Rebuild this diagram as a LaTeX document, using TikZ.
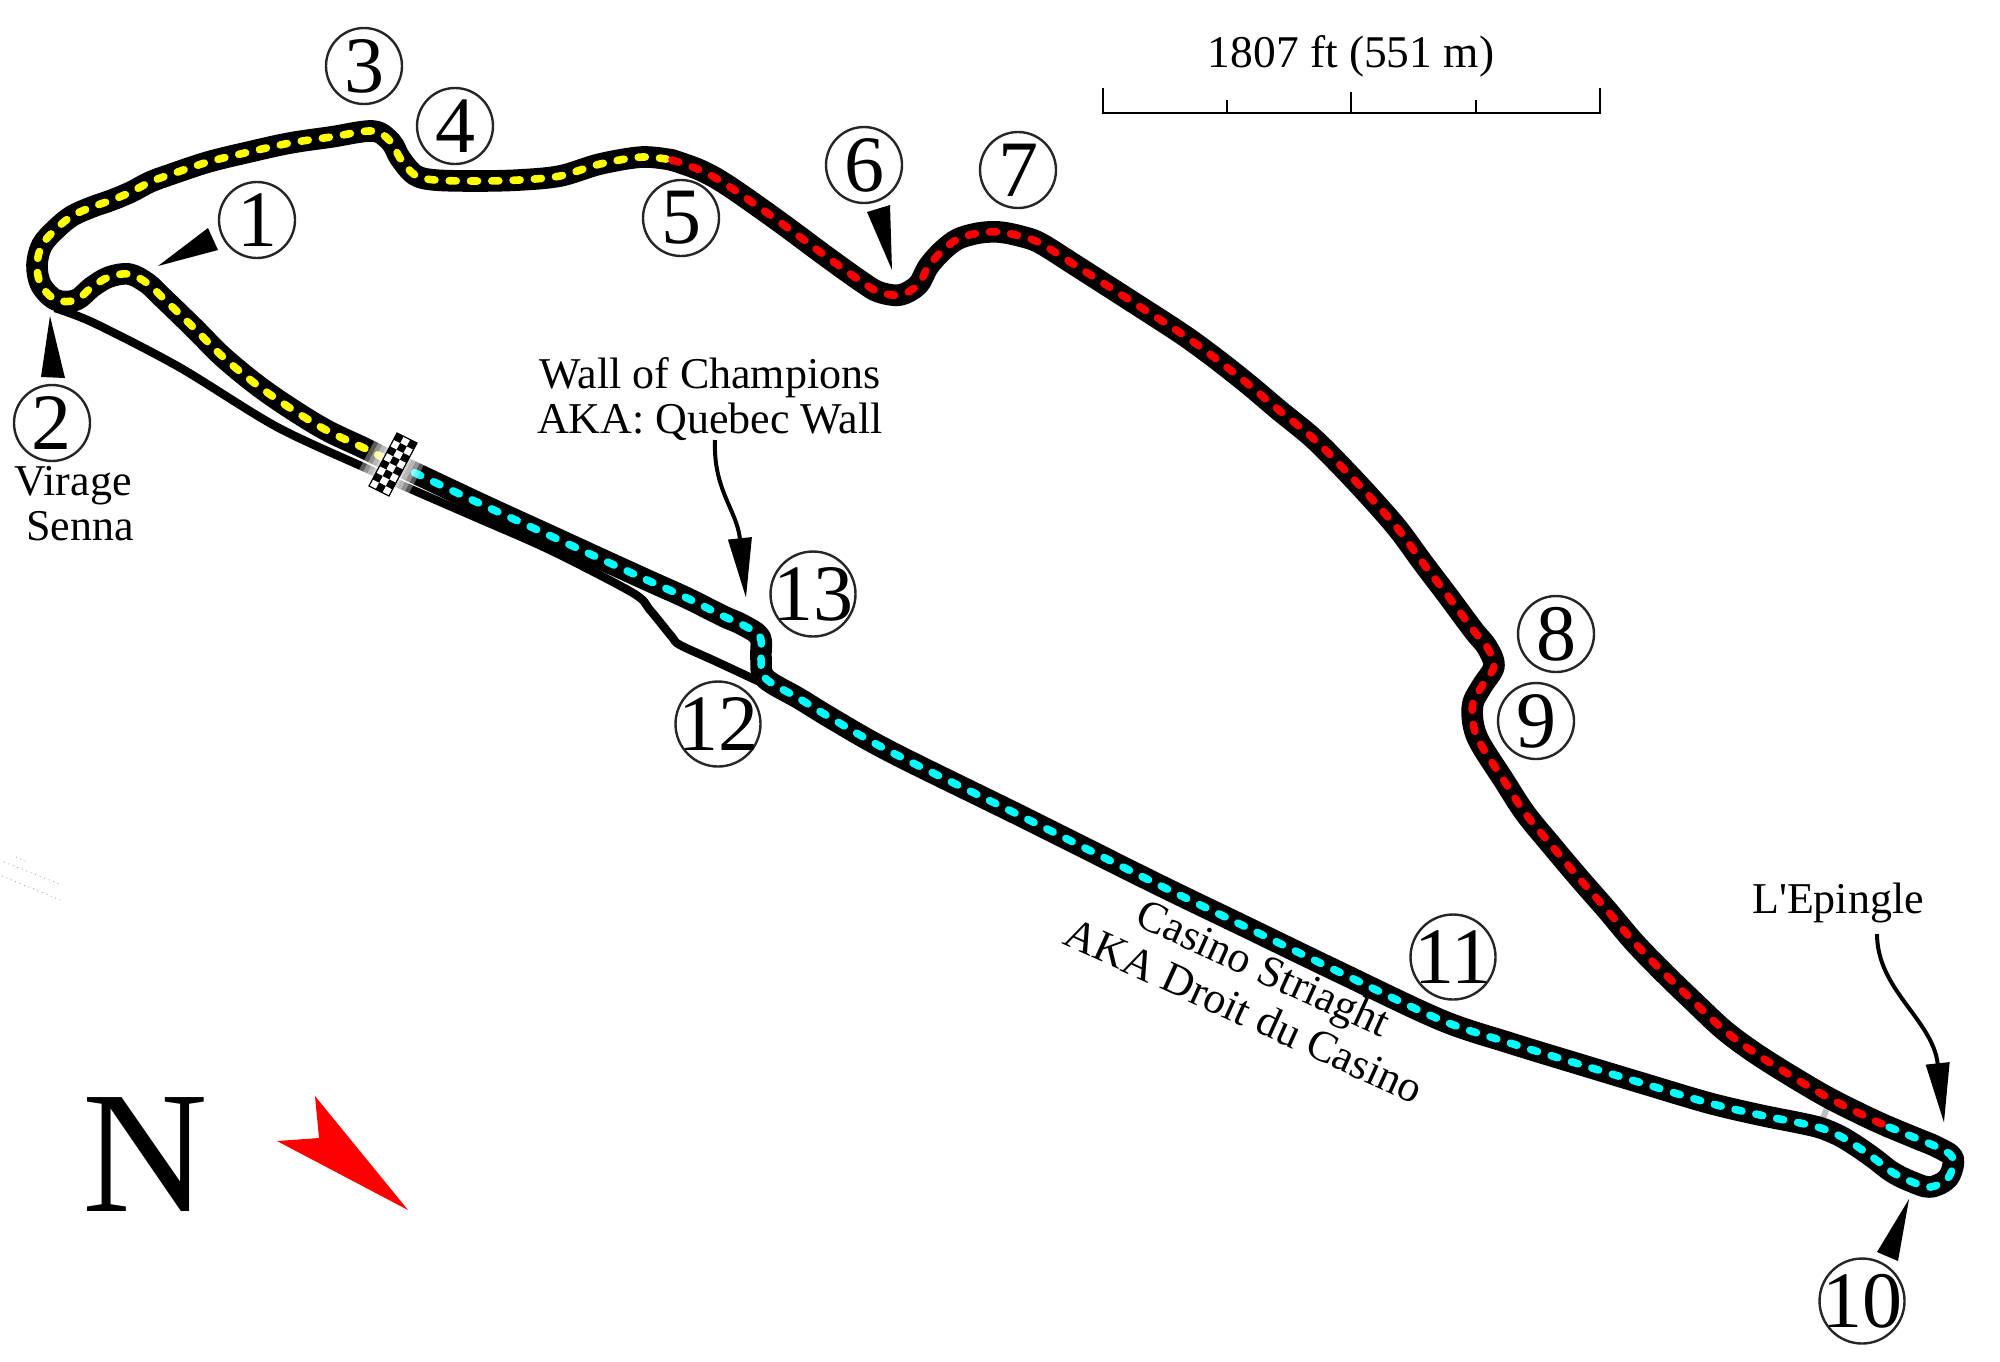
\documentclass[tikz,border=0pt]{standalone}
\usepackage{fontspec}
\setmainfont{Liberation Serif}
\usetikzlibrary{arrows.meta}

\definecolor{sectoryellow}{HTML}{FFFF00}
\definecolor{sectorred}{HTML}{FF0000}
\definecolor{sectorcyan}{HTML}{00FFFF}

\tikzset{
	trackedge/.style={line width=10.8pt, line cap=round, line join=round, black},
	trackdash/.style={line width=3.8pt, line cap=round, dash pattern=on 3.5pt off 7.15pt},
	pitlane/.style={line width=4.2pt, line join=round, black},
	turnmark/.style={circle, draw=black!85, line width=1.2pt, inner sep=0pt, minimum size=38pt,
		font=\fontsize{40}{40}\selectfont},
	turnmarkwide/.style={turnmark, minimum size=42.5pt},
	placename/.style={inner sep=0pt, align=center, font=\fontsize{22}{22}\selectfont},
	callout/.style={line width=2pt, -{Triangle[length=30pt,width=11.5pt]}},
}

\newcommand{\sectorone}{plot[smooth, tension=.55] coordinates {
	(384,458) (364,448) (326,430) (290,408) (257,385) (223,357) (194,328) (163,298)
	(147,283) (129,274) (109,277) (92,287) (76,300) (56,300) (41,285) (37,265)
	(42,245) (56,229) (72,216) (92,207) (112,200) (131,192) (150,182) (169,175)
	(208,162) (249,152) (290,143) (331,137) (373,131) (391,142) (400,158) (415,175)
	(435,180) (477,181) (519,180) (560,176) (600,164) (642,157) (672,160)}}
\newcommand{\sectortwo}{plot[smooth, tension=.55] coordinates {
	(672,160) (700,170) (727,185) (777,220) (827,257) (862,282) (879,292) (900,295) (918,285) (928,267)
	(942,251) (958,239) (979,233) (999,232) (1020,236) (1040,243) (1075,265)
	(1128,299) (1182,334) (1215,358) (1248,384) (1280,411) (1313,438) (1343,468) (1371,498)
	(1398,529) (1423,563) (1448,596) (1474,631) (1487,647) (1494,666)
	(1482,686) (1473,703) (1473,723) (1480,743) (1503,779) (1525,813) (1552,846) (1579,878)
	(1607,910) (1634,942) (1663,972) (1693,1001) (1724,1030) (1755,1053) (1793,1077)
	(1829,1098) (1867,1117) (1889,1127)}}
\newcommand{\sectorthree}{plot[smooth, tension=.55] coordinates {
	(1889,1127) (1918,1139) (1937,1147) (1953,1158) (1948,1178) (1930,1187) (1910,1181)
	(1892,1172) (1875,1159) (1858,1147) (1840,1136) (1821,1128) (1800,1123) (1760,1115)
	(1709,1103) (1645,1084) (1582,1065) (1510,1043) (1441,1020) (1339,972) (1246,927) (1153,882)
	(1023,817) (893,753) (836,721) (800,699) (765,678) (761,658)
	(760,637) (743,625) (723,616) (687,598) (647,580) (590,554) (553,537) (483,505) (413,472) (384,458)}}

\begin{document}
\begin{tikzpicture}[x=.5pt, y=-.5pt]
\useasboundingbox (0,0) rectangle (2000,1361);

% stray marks on the left
\foreach \xa/\ya/\xb/\yb in {4/862/62/885, 2/876/63/901, 16/857/27/862}
	\draw[blue!45, line width=.4pt, dotted] (\xa,\ya) -- (\xb,\yb);

% pit lane and the old access mark
\draw[gray!50, line width=3pt] (1827,1108) -- (1823,1118);
\draw[pitlane] plot[smooth, tension=.5] coordinates {(55,308) (94,323) (179,367) (277,427)
	(370,470) (397,483) (475,517) (550,550) (633,593) (650,610) (672,637) (680,645) (715,661) (760,682)};

% the track
\draw[trackedge] \sectorone;
\draw[trackedge] \sectortwo;
\draw[trackedge] \sectorthree;
\draw[trackdash, sectoryellow] \sectorone;
\draw[trackdash, sectorred] \sectortwo;
\draw[trackdash, sectorcyan] \sectorthree;

% start line
\begin{scope}[shift={(397,433)}, x={(3.33pt,-1.67pt)}, y={(-1.75pt,-3.31pt)}]
	\foreach \w in {.4, 1.0, 1.6, 2.2}
		\fill[white, opacity=.35] (-\w,0) -- (3+\w,0) -- (3+\w,8) -- (-\w,8) -- cycle;
	\fill[white] (0,0) -- (3,0) -- (3,8) -- (0,8) -- cycle;
	\foreach \i in {0,1,2}
		\foreach \j in {0,...,7}
		{
			\pgfmathtruncatemacro{\cell}{mod(\i+\j,2)}
			\ifnum\cell=0 \fill[black] (\i,\j) -- (\i+1,\j) -- (\i+1,\j+1) -- (\i,\j+1) -- cycle; \fi
		}
	\draw[black, line width=.6pt] (0,0) -- (3,0) -- (3,8) -- (0,8) -- cycle;
\end{scope}

% turn numbers
\foreach \n/\px/\py in {1/257/220, 2/52/423, 3/364/66, 4/455/126, 5/681/218, 6/864/165,
	7/1018/170, 8/1556/634, 9/1536/721}
	\node (turn\n) [turnmark] at (\px,\py) {\makebox[0pt]{\n}};
\foreach \n/\px/\py in {10/1862/1301, 11/1453/957, 12/718/724, 13/813/594}
	\node (turn\n) [turnmarkwide] at (\px,\py) {\makebox[0pt]{\n}};

% pointers
\fill (158,266) -- (208,228) -- (218,250) -- cycle;
\fill (50,316) -- (41,377) -- (65,378) -- cycle;
\fill (892,270) -- (867,212) -- (890,205) -- cycle;
\fill (1909,1199) -- (1877,1252) -- (1898,1261) -- cycle;

% names
\node (virage) [placename, anchor=base] at (73,495) {Virage};
\node (senna) [placename, anchor=base] at (80,540) {Senna};
\node (wall) [placename, anchor=base] at (710,388) {Wall of Champions};
\node (quebec) [placename, anchor=base] at (710,433) {AKA: Quebec Wall};
\node (epingle) [placename, anchor=base] at (1838,913) {L\textquotesingle Epingle};
\node (casino) [placename, rotate=-24.5, font=\fontsize{22}{23.5}\selectfont] at (1254,989)
	{Casino Striaght\\AKA Droit du Casino};

\coordinate (wallfoot) at (715,440);
\coordinate (walltip) at (746,598);
\draw[callout] (wallfoot) .. controls (713,490) and (737,510) .. (walltip);
\coordinate (epinglefoot) at (1877,934);
\coordinate (epingletip) at (1944,1123);
\draw[callout] (epinglefoot) .. controls (1877,990) and (1933,1020) .. (epingletip);

% scale
\node (scalename) [placename, anchor=base, font=\fontsize{22.7}{22.7}\selectfont] at (1351,67) {1807 ft (551 m)};
\draw[line width=.8pt] (1103,88) -- (1103,113) -- (1600,113) -- (1600,88);
\draw[line width=.8pt] (1227,100) -- (1227,113) (1351,92) -- (1351,113) (1476,100) -- (1476,113);

% north
\node (north) [inner sep=0pt, anchor=base, font=\fontsize{87}{87}\selectfont] at (145,1211) {N};
\fill[sectorred] (408,1210) -- (315,1096) -- (319,1138) -- (277,1141) -- cycle;
\end{tikzpicture}
\end{document}
